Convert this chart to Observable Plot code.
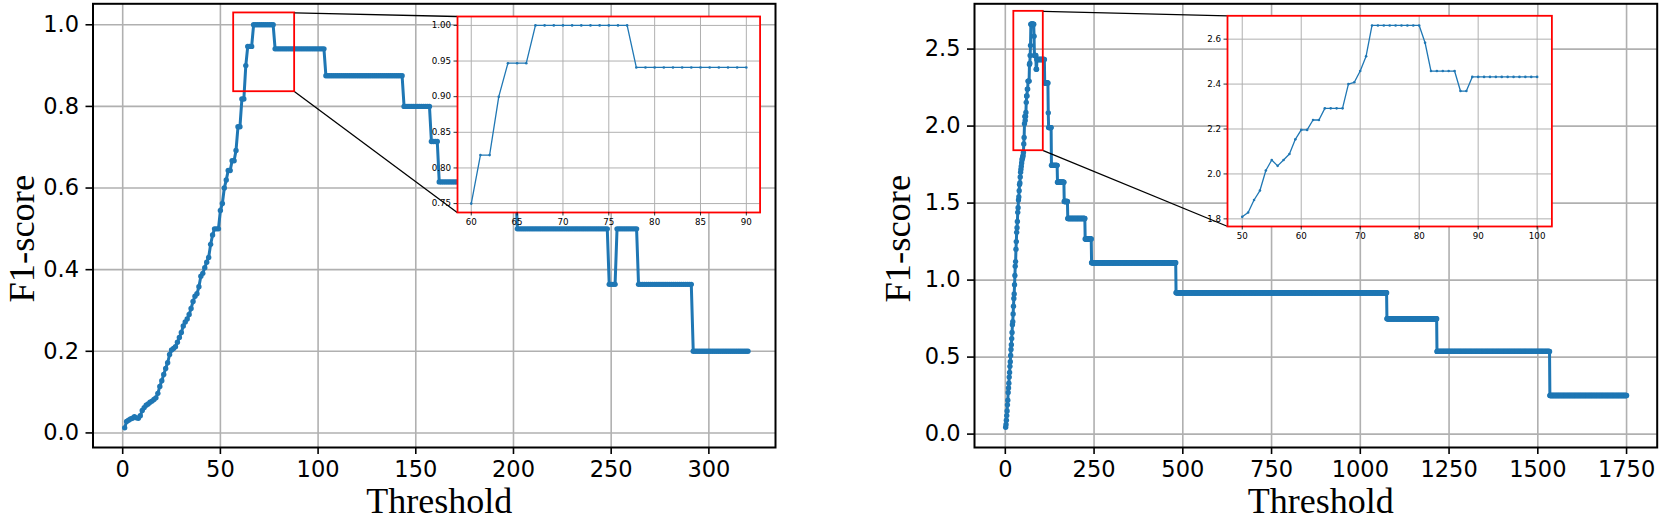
<!DOCTYPE html>
<html><head><meta charset="utf-8">
<script src="https://cdn.jsdelivr.net/npm/d3@7"></script>
<script src="https://cdn.jsdelivr.net/npm/@observablehq/plot@0.6"></script>
<style>
html,body{margin:0;padding:0;background:#fff;}
#root{position:relative;width:1661px;height:520px;overflow:hidden;background:#fff;}
#root > div{position:absolute;top:0;}
#root svg{display:block;}
</style></head><body><div id="root"></div>
<script>
// ---------- data ----------
// Left panel: F1-score for thresholds 1..66 (one value per integer threshold)
const leftRise = [0.0125,0.028,0.031,0.034,0.036,0.040,0.037,0.036,0.042,0.055,
  0.062,0.068,0.071,0.075,0.078,0.082,0.086,0.097,0.114,0.128,
  0.143,0.158,0.172,0.192,0.203,0.207,0.211,0.222,0.234,0.246,
  0.262,0.272,0.279,0.290,0.305,0.322,0.335,0.341,0.358,0.384,
  0.391,0.405,0.418,0.430,0.462,0.485,0.5,0.5,0.5,0.545,
  0.562,0.6,0.62,0.643,0.643,0.667,0.667,0.692,0.75,0.75,
  0.818,0.818,0.9,0.947,0.947,0.947];
// Left panel: flat runs [first threshold, last threshold, F1-score]
const leftSteps = [[67,77,1.0],[78,103,0.941],[104,143,0.875],[144,157,0.8],[158,161,0.714],
  [162,201,0.615],[202,248,0.5],[249,252,0.364],[253,263,0.5],[264,291,0.364],[292,320,0.2]];
// Right panel: thresholds 1..100
const rightRise = [0.044,0.062,0.09,0.12,0.15,0.19,0.22,0.27,0.30,0.33,
  0.37,0.40,0.44,0.47,0.51,0.55,0.58,0.62,0.66,0.71,
  0.73,0.78,0.83,0.88,0.91,0.97,1.03,1.09,1.12,1.20,
  1.25,1.31,1.34,1.38,1.44,1.47,1.52,1.54,1.58,1.62,
  1.63,1.67,1.70,1.72,1.74,1.76,1.78,1.79,1.80,
  1.809,1.828,1.884,1.926,2.015,2.062,2.036,2.062,2.089,2.154,
  2.196,2.196,2.24,2.24,2.292,2.292,2.292,2.292,2.40,2.408,
  2.458,2.524,2.661,2.661,2.661,2.661,2.661,2.661,2.661,2.661,
  2.661,2.584,2.458,2.458,2.458,2.458,2.458,2.369,2.369,2.432,
  2.432,2.432,2.432,2.432,2.432,2.432,2.432,2.432,2.432,2.432,2.432];
const rightSteps = [[101,110,2.432],[111,120,2.28],[121,121,2.086],[122,129,1.99],[130,146,1.745],
  [147,165,1.635],[166,175,1.51],[176,224,1.40],[225,242,1.267],[243,480,1.113],
  [481,1074,0.918],[1075,1215,0.749],[1216,1533,0.537],[1534,1750,0.251]];

// tick values
const leftXTicks = [0,50,100,150,200,250,300];
const leftYTicks = [0,0.2,0.4,0.6,0.8,1.0];
const rightXTicks = [0,250,500,750,1000,1250,1500,1750];
const rightYTicks = [0,0.5,1.0,1.5,2.0,2.5];
const leftInsetXTicks = [60,65,70,75,80,85,90];
const leftInsetYTicks = [0.75,0.80,0.85,0.90,0.95,1.00];
const rightInsetXTicks = [50,60,70,80,90,100];
const rightInsetYTicks = [1.8,2.0,2.2,2.4,2.6];
// zoom ranges
const leftInsetRange = [60,90];
const rightInsetRange = [50,100];
// zoom indicator boxes [x1, x2, yBottom, yTop]
const leftBox = [56.8, 88.0, 0.836, 1.029];
const rightBox = [24, 107, 1.84, 2.745];

const xLabel = "Threshold";
const yLabel = "F1-score";

// ---------- build ----------
function expand(rise, steps) {
  const pts = rise.map((v, i) => ({x: i + 1, y: v}));
  for (const [a, b, v] of steps) for (let x = a; x <= b; x++) pts.push({x, y: v});
  return pts;
}
const leftData = expand(leftRise, leftSteps);
const rightData = expand(rightRise, rightSteps);

const BLUE = "#1f77b4", GRID = "#b0b0b0";
const root = document.getElementById("root");

function place(el, left, top) {
  const d = document.createElement("div");
  d.style.left = left + "px"; d.style.top = top + "px";
  d.appendChild(el); root.appendChild(d);
}

function mainChart(cfg) {
  const H = 520, mT = 3.3, mB = 73;
  const xs = d3.scaleLinear(cfg.xDomain, [cfg.mL, cfg.W - cfg.mR]);
  const ys = d3.scaleLinear(cfg.yDomain, [H - mB, mT]);
  const [bx1, bx2, by1, by2] = cfg.box;
  const inL = cfg.inset.left - cfg.offset, inT = cfg.inset.top, inB = cfg.inset.bottom;
  const links = [
    {x1: bx2, y1: by2, x2: xs.invert(inL), y2: ys.invert(inT)},
    {x1: bx2, y1: by1, x2: xs.invert(inL), y2: ys.invert(inB)}
  ];
  const chart = Plot.plot({
    width: cfg.W, height: H,
    marginLeft: cfg.mL, marginRight: cfg.mR, marginTop: mT, marginBottom: mB,
    x: {domain: cfg.xDomain},
    y: {domain: cfg.yDomain},
    style: {fontFamily: "DejaVu Sans", color: "black", background: "transparent", maxWidth: "none", overflow: "visible"},
    marks: [
      Plot.gridX(cfg.xTicks, {stroke: GRID, strokeOpacity: 1, strokeWidth: 1.6}),
      Plot.gridY(cfg.yTicks, {stroke: GRID, strokeOpacity: 1, strokeWidth: 1.6}),
      Plot.line(cfg.data, {x: "x", y: "y", stroke: BLUE, strokeWidth: 3}),
      Plot.dot(cfg.data, {x: "x", y: "y", r: 2.7, fill: BLUE, stroke: "none"}),
      Plot.rect([cfg.box], {x1: d => d[0], x2: d => d[1], y1: d => d[2], y2: d => d[3], fill: "none", stroke: "red", strokeWidth: 1.8}),
      Plot.link(links, {x1: "x1", y1: "y1", x2: "x2", y2: "y2", stroke: "black", strokeWidth: 1.3}),
      Plot.frame({stroke: "black", strokeWidth: 2}),
      Plot.axisX(cfg.xTicks, {tickSize: 7, tickPadding: 7, fontSize: 22.5, tickFormat: d3.format("d"), label: null, strokeWidth: 1.6}),
      Plot.axisY(cfg.yTicks, {tickSize: 7, tickPadding: 7, fontSize: 22.5, tickFormat: d3.format(".1f"), label: null, strokeWidth: 1.6}),
      Plot.text([xLabel], {text: d => d, frameAnchor: "bottom", textAnchor: "middle", lineAnchor: "middle", dy: 53.5, dx: 5, fontSize: 36, fontFamily: "Liberation Serif", fill: "black"}),
      Plot.text([yLabel], {text: d => d, frameAnchor: "left", textAnchor: "middle", rotate: -90, lineAnchor: "middle", dx: cfg.labelDx, dy: 13, fontSize: 36.5, fontFamily: "Liberation Serif", fill: "black"})
    ]
  });
  place(chart, cfg.offset, 0);
}

function insetChart(cfg) {
  const {left, top, right, bottom} = cfg.frame;
  const padL = 38, padR = 14, padB = 22;
  const W = right - left + padL + padR;
  const H = bottom + padB;
  const pts = cfg.data.filter(d => d.x >= cfg.range[0] && d.x <= cfg.range[1]);
  const chart = Plot.plot({
    width: W, height: H,
    marginLeft: padL, marginRight: padR, marginTop: top, marginBottom: padB,
    x: {domain: cfg.xDomain},
    y: {domain: cfg.yDomain},
    style: {fontFamily: "DejaVu Sans", color: "black", background: "transparent", maxWidth: "none", overflow: "visible"},
    marks: [
      Plot.frame({fill: "white", stroke: "none"}),
      Plot.gridX(cfg.xTicks, {stroke: GRID, strokeOpacity: 1, strokeWidth: 1}),
      Plot.gridY(cfg.yTicks, {stroke: GRID, strokeOpacity: 1, strokeWidth: 1}),
      Plot.line(pts, {x: "x", y: "y", stroke: BLUE, strokeWidth: 1.3}),
      Plot.dot(pts, {x: "x", y: "y", r: 1.3, fill: BLUE, stroke: "none"}),
      Plot.frame({stroke: "red", strokeWidth: 1.8}),
      Plot.axisX(cfg.xTicks, {tickSize: 3.5, tickPadding: 3, fontSize: 8.7, tickFormat: d3.format("d"), label: null, strokeWidth: 0.8}),
      Plot.axisY(cfg.yTicks, {tickSize: 3.5, tickPadding: 3, fontSize: 8.7, tickFormat: cfg.yFmt, label: null, strokeWidth: 0.8})
    ]
  });
  place(chart, left - padL, 0);
}

const leftInsetFrame = {left: 456.7, top: 16, right: 759.3, bottom: 212};
const rightInsetFrame = {left: 1227.3, top: 15.3, right: 1551.7, bottom: 226};

mainChart({data: leftData, W: 830, offset: 0, mL: 92.5, mR: 55,
  xDomain: [-15.2, 334.1], yDomain: [-0.0357, 1.0514],
  xTicks: leftXTicks, yTicks: leftYTicks, box: leftBox, inset: leftInsetFrame, labelDx: -71});
mainChart({data: rightData, W: 831, offset: 830, mL: 144, mR: 4.3,
  xDomain: [-86.8, 1836.3], yDomain: [-0.087, 2.794],
  xTicks: rightXTicks, yTicks: rightYTicks, box: rightBox, inset: rightInsetFrame, labelDx: -76});

insetChart({data: leftData, frame: leftInsetFrame, range: leftInsetRange,
  xDomain: [58.5, 91.5], yDomain: [0.7375, 1.0125],
  xTicks: leftInsetXTicks, yTicks: leftInsetYTicks, yFmt: d3.format(".2f")});
insetChart({data: rightData, frame: rightInsetFrame, range: rightInsetRange,
  xDomain: [47.5, 102.5], yDomain: [1.766, 2.704],
  xTicks: rightInsetXTicks, yTicks: rightInsetYTicks, yFmt: d3.format(".1f")});
</script></body></html>
